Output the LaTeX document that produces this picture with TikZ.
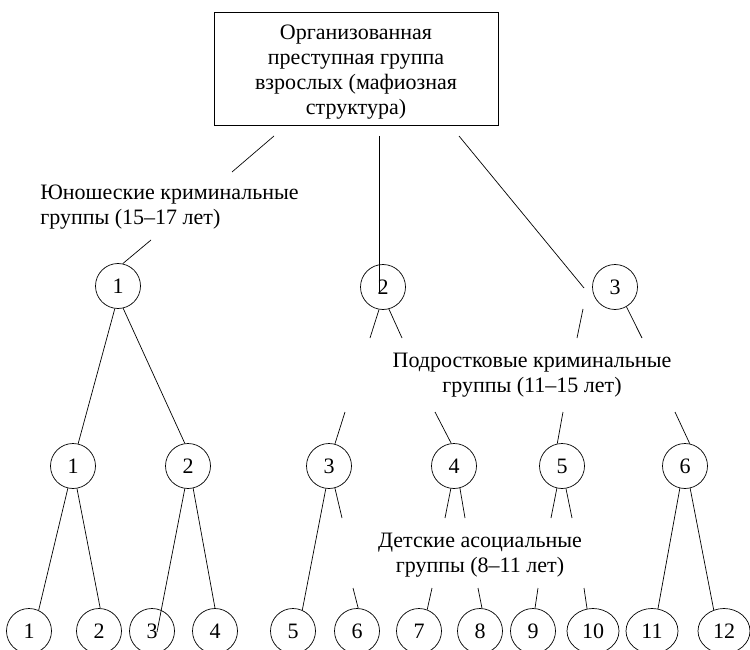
\documentclass[tikz,border=0pt]{standalone}
\usepackage{fontspec}
\setmainfont{Liberation Serif}
\usetikzlibrary{shapes.geometric}
\begin{document}
\begin{tikzpicture}[x=1pt,y=-1pt,line width=0.7pt,
  every node/.style={font=\fontsize{22}{25}\selectfont},
  circ/.style={draw,ellipse,minimum width=45pt,minimum height=45pt,inner sep=0pt},
  wide/.style={circ,minimum width=52pt},
  topbox/.style={draw,rectangle,minimum width=284pt,minimum height=113pt,inner sep=0pt},
  lbl/.style={inner sep=0pt},
  conn/.style={draw,line width=0.7pt}]
\useasboundingbox (0,0) rectangle (750,650);
% top box
\node[topbox] (top) at (356,68.5) {};
\node[lbl,anchor=north,align=center] (toptext) at (356,25) {Организованная\\преступная группа\\взрослых (мафиозная\\структура)};
% labels
\node[lbl,anchor=north west,align=left] (youth) at (40,185) {Юношеские криминальные\\группы (15–17 лет)};
\node[lbl,anchor=north,align=center] (teen) at (532,353) {Подростковые криминальные\\группы (11–15 лет)};
\node[lbl,anchor=north,align=center] (child) at (480,533) {Детские асоциальные\\группы (8–11 лет)};
% level 1
\node[circ] (a1) at (118,286) {1};
\node[circ] (a2) at (383,287) {2};
\node[circ] (a3) at (615,287) {3};
% level 2
\node[circ] (b1) at (73,466) {1};
\node[circ] (b2) at (188,466) {2};
\node[circ] (b3) at (329,466) {3};
\node[circ] (b4) at (454,466) {4};
\node[circ] (b5) at (562,466) {5};
\node[circ] (b6) at (685,466) {6};
% level 3
\node[circ] (c1) at (29,631) {1};
\node[circ] (c2) at (99,631) {2};
\node[circ] (c3) at (152,631) {3};
\node[circ] (c4) at (215,631) {4};
\node[circ] (c5) at (293,631) {5};
\node[circ] (c6) at (357,631) {6};
\node[circ] (c7) at (419,631) {7};
\node[circ] (c8) at (480,631) {8};
\node[circ] (c9) at (533,631) {9};
\node[wide] (c10) at (593,631) {10};
\node[wide] (c11) at (652,631) {11};
\node[wide] (c12) at (724,631) {12};
% free-end coordinates
\coordinate (p1) at (274,136); \coordinate (q1) at (232,172);
\coordinate (p2) at (151,240);
\coordinate (p3) at (379,136); \coordinate (q3) at (379,292);
\coordinate (p4) at (459,136); \coordinate (q4) at (584,288);
\coordinate (r1) at (370,338); \coordinate (r2) at (402,338);
\coordinate (r3) at (583,309); \coordinate (r4) at (577,338);
\coordinate (r5) at (642,338);
\coordinate (s3) at (345,412); \coordinate (s4) at (435,412);
\coordinate (s5) at (563,412); \coordinate (s6) at (675,412);
\coordinate (u1) at (157,632);
\coordinate (u2) at (342,518);
\coordinate (u3) at (445,518); \coordinate (u4) at (465,518);
\coordinate (u5) at (551,518); \coordinate (u6) at (572,518);
\coordinate (v6) at (353,588); \coordinate (v7) at (432,588);
\coordinate (v8) at (478,588); \coordinate (v9) at (538,588);
\coordinate (v10) at (584,588);
% connectors from the top box
\path[conn] (p1) -- (q1);
\path[conn] (p2) -- (a1.78);
\path[conn] (p3) -- (q3);
\path[conn] (p4) -- (q4);
% level 1 down
\path[conn] (a1.262) -- (b1.77);
\path[conn] (a1.283) -- (b2.98);
\path[conn] (a2.260) -- (r1);
\path[conn] (a2.285) -- (r2);
\path[conn] (r3) -- (r4);
\path[conn] (a3.300) -- (r5);
% teen label down
\path[conn] (s3) -- (b3.75);
\path[conn] (s4) -- (b4.97);
\path[conn] (s5) -- (b5.102);
\path[conn] (s6) -- (b6.78);
% level 2 down
\path[conn] (b1.257) -- (c1.65);
\path[conn] (b1.280) -- (c2.87);
\path[conn] (b2.262) -- (u1);
\path[conn] (b2.283) -- (c4.90);
\path[conn] (b3.262) -- (c5.66);
\path[conn] (b3.285) -- (u2);
\path[conn] (b4.262) -- (u3);
\path[conn] (b4.285) -- (u4);
\path[conn] (b5.257) -- (u5);
\path[conn] (b5.280) -- (u6);
\path[conn] (b6.257) -- (c11.75);
\path[conn] (b6.283) -- (c12.116);
% child label down
\path[conn] (v6) -- (c6.87);
\path[conn] (v7) -- (c7.69);
\path[conn] (v8) -- (c8.85);
\path[conn] (v9) -- (c9.85);
\path[conn] (v10) -- (c10.105);
\end{tikzpicture}
\end{document}
